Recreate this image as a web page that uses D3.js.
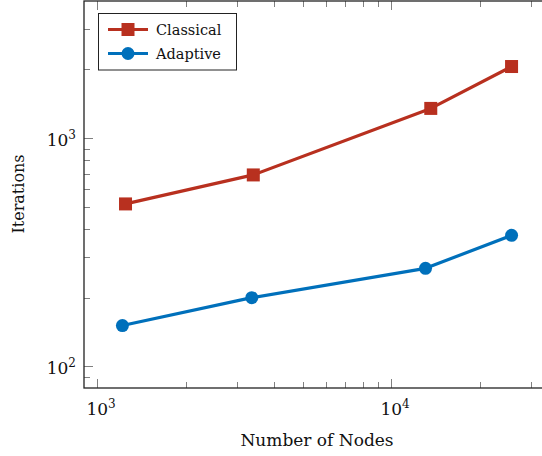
<!DOCTYPE html>
<html>
<head>
<meta charset="utf-8">
<script src="https://cdn.jsdelivr.net/npm/d3@7"></script>
<style>
  html, body { margin: 0; padding: 0; background: #fff; }
  svg { display: block; }
  text { font-family: "DejaVu Serif", "Liberation Serif", serif; fill: #111; }
</style>
</head>
<body>
<svg id="chart" width="542" height="456"></svg>
<script>
// Iteration counts versus mesh size for the two solvers
const classicalNodes = [1250, 3400, 13650, 25700];
const classicalIters = [515, 690, 1350, 2060];
const adaptiveNodes  = [1220, 3360, 13100, 25700];
const adaptiveIters  = [151, 200, 269, 375];
const seriesNames    = ["Classical", "Adaptive"];
const xTickExponents = [3, 4];
const yTickExponents = [2, 3];

const W = 542, H = 456;
const frame = { left: 84, right: 551, top: 1, bottom: 388 };

const x = d3.scaleLog().domain([903, 35000]).range([frame.left, frame.right]);
const y = d3.scaleLog().domain([80.4, 3990]).range([frame.bottom, frame.top]);

const svg = d3.select("#chart");

const series = [
  { name: seriesNames[0], color: "#b8301f", marker: "square",
    pts: classicalNodes.map((n, i) => [n, classicalIters[i]]) },
  { name: seriesNames[1], color: "#0070bb", marker: "circle",
    pts: adaptiveNodes.map((n, i) => [n, adaptiveIters[i]]) }
];

// tick marks (inside, mirrored on opposite sides)
const tickColor = "#808080";
const ticks = svg.append("g").attr("stroke", tickColor).attr("stroke-width", 1);

function logTicks(scale) {
  const [a, b] = scale.domain();
  const out = [];
  for (let e = Math.floor(Math.log10(a)); e <= Math.ceil(Math.log10(b)); e++) {
    for (let m = 1; m <= 9; m++) {
      const v = m * Math.pow(10, e);
      if (v >= a && v <= b) out.push({ v, major: m === 1 });
    }
  }
  return out;
}

logTicks(x).forEach(t => {
  const px = Math.round(x(t.v)) + 0.5, len = t.major ? 9 : 6;
  ticks.append("line").attr("x1", px).attr("x2", px).attr("y1", frame.bottom).attr("y2", frame.bottom - len);
  ticks.append("line").attr("x1", px).attr("x2", px).attr("y1", frame.top).attr("y2", frame.top + len);
});
logTicks(y).forEach(t => {
  const py = Math.round(y(t.v)) + 0.5, len = t.major ? 9 : 6;
  ticks.append("line").attr("y1", py).attr("y2", py).attr("x1", frame.left).attr("x2", frame.left + len);
  ticks.append("line").attr("y1", py).attr("y2", py).attr("x1", frame.right).attr("x2", frame.right - len);
});

// frame
svg.append("rect")
  .attr("x", frame.left).attr("y", frame.top)
  .attr("width", frame.right - frame.left).attr("height", frame.bottom - frame.top)
  .attr("fill", "none").attr("stroke", "#222").attr("stroke-width", 1.3);

// tick labels with superscript exponent
function powLabel(g, e, anchor) {
  const t = g.append("text").attr("text-anchor", anchor).attr("font-size", 17);
  t.append("tspan").text("10");
  t.append("tspan").attr("font-size", 12).attr("dy", -7).text(e);
  return t;
}
xTickExponents.forEach(e => {
  const g = svg.append("g").attr("transform", `translate(${x(Math.pow(10, e)) + 4},415)`);
  powLabel(g, e, "middle");
});
yTickExponents.forEach(e => {
  const g = svg.append("g").attr("transform", `translate(76,${y(Math.pow(10, e)) + 8})`);
  powLabel(g, e, "end");
});

// axis titles
svg.append("text").attr("x", 317).attr("y", 446).attr("text-anchor", "middle")
  .attr("font-size", 17).text("Number of Nodes");
svg.append("text").attr("transform", "translate(24,194) rotate(-90)")
  .attr("text-anchor", "middle").attr("font-size", 16).text("Iterations");

// lines and markers
const line = d3.line().x(d => x(d[0])).y(d => y(d[1]));
function drawMarker(g, type, cx, cy, color) {
  if (type === "square") {
    g.append("rect").attr("x", cx - 6.5).attr("y", cy - 6.5).attr("width", 13).attr("height", 13).attr("fill", color);
  } else {
    g.append("circle").attr("cx", cx).attr("cy", cy).attr("r", 6.5).attr("fill", color);
  }
}
series.forEach(s => {
  svg.append("path").datum(s.pts).attr("d", line)
    .attr("fill", "none").attr("stroke", s.color).attr("stroke-width", 3.2)
    .attr("stroke-linejoin", "round");
  const g = svg.append("g");
  s.pts.forEach(p => drawMarker(g, s.marker, x(p[0]), y(p[1]), s.color));
});

// legend
const leg = svg.append("g");
leg.append("rect").attr("x", 98.5).attr("y", 13.5).attr("width", 138).attr("height", 56.5)
  .attr("fill", "#fff").attr("stroke", "#222").attr("stroke-width", 1);
series.forEach((s, i) => {
  const ly = 29.5 + i * 24;
  leg.append("line").attr("x1", 108).attr("x2", 148).attr("y1", ly).attr("y2", ly)
    .attr("stroke", s.color).attr("stroke-width", 3.2);
  drawMarker(leg, s.marker, 128, ly, s.color);
  leg.append("text").attr("x", 156).attr("y", ly + 5).attr("font-size", 14.5).text(s.name);
});
</script>
</body>
</html>
